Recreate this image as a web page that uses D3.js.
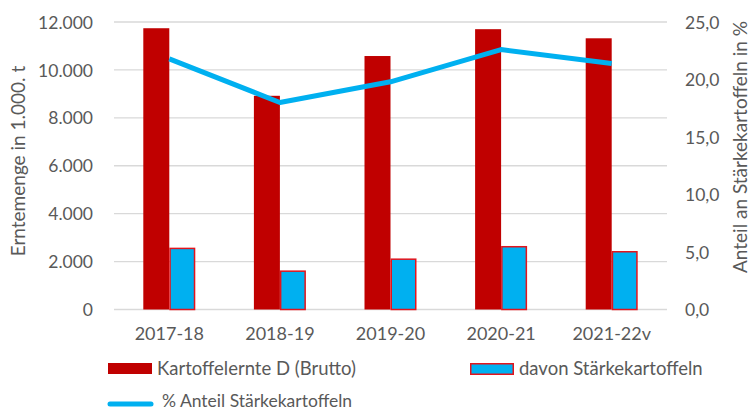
<!DOCTYPE html>
<html><head><meta charset="utf-8">
<script src="https://cdn.jsdelivr.net/npm/d3@7"></script>
<style>
html,body{margin:0;padding:0;background:#fff;}
svg text{font-family:Lato, "Open Sans", sans-serif;fill:#595959;}
</style></head>
<body><svg id="c" width="751" height="411"></svg>
<script>
const categories = ["2017-18","2018-19","2019-20","2020-21","2021-22v"];
const ernte = [11740, 8920, 10580, 11700, 11320];
const staerke = [2550, 1600, 2100, 2620, 2410];
const anteil = [21.8, 18.0, 19.8, 22.6, 21.4];
const leftTicks = [0,2000,4000,6000,8000,10000,12000];
const rightTicks = [0,5,10,15,20,25];
const seriesNames = ["Kartoffelernte D (Brutto)","davon Stärkekartoffeln","% Anteil Stärkekartoffeln"];

const RED="#c00000", BLUE="#00b0f0", EDGE="#e3141c";
const svg = d3.select("#c");
const L=114, R=667, T=22, B=309.5;
const x = d3.scaleBand().domain(categories).range([L,R]);
const yL = d3.scaleLinear().domain([0,12000]).range([B,T]);
const yR = d3.scaleLinear().domain([0,25]).range([B,T]);
const fmtL = v => d3.format(",")(v).replace(/,/g,".");
const fmtR = v => d3.format(".1f")(v).replace(".",",");

// gridlines
svg.append("g").selectAll("line").data(leftTicks).join("line")
  .attr("x1",L).attr("x2",R).attr("y1",d=>yL(d)).attr("y2",d=>yL(d))
  .attr("stroke","#d9d9d9").attr("stroke-width",1.3);

// axes
const axL = svg.append("g").attr("transform",`translate(${L},0)`)
  .call(d3.axisLeft(yL).tickValues(leftTicks).tickFormat(fmtL).tickSize(0).tickPadding(21));
axL.select(".domain").remove();
axL.selectAll("text").attr("font-size",17.5).attr("dy","0.35em").style("font-family","Lato");

const axR = svg.append("g").attr("transform",`translate(${R},0)`)
  .call(d3.axisRight(yR).tickValues(rightTicks).tickFormat(fmtR).tickSize(0).tickPadding(18));
axR.select(".domain").remove();
axR.selectAll("text").attr("font-size",17.5).attr("dy","0.35em").style("font-family","Lato");

const axX = svg.append("g").attr("transform",`translate(0,${B})`)
  .call(d3.axisBottom(x).tickSize(0).tickPadding(18));
axX.select(".domain").remove();
axX.selectAll("text").attr("font-size",18).style("font-family","Lato");

// bars
const bw = 26;
svg.append("g").selectAll("rect").data(categories).join("rect")
  .attr("x",d=>x(d)+x.bandwidth()/2-bw).attr("width",bw)
  .attr("y",(d,i)=>yL(ernte[i])).attr("height",(d,i)=>B-yL(ernte[i]))
  .attr("fill",RED);
svg.append("g").selectAll("rect").data(categories).join("rect")
  .attr("x",d=>x(d)+x.bandwidth()/2+0.75).attr("width",bw-1.5)
  .attr("y",(d,i)=>yL(staerke[i])).attr("height",(d,i)=>B-yL(staerke[i]))
  .attr("fill",BLUE).attr("stroke",EDGE).attr("stroke-width",1.5);

// line
const line = d3.line().x((d,i)=>x(categories[i])+x.bandwidth()/2).y(d=>yR(d));
svg.append("path").datum(anteil).attr("d",line).attr("fill","none")
  .attr("stroke",BLUE).attr("stroke-width",5).attr("stroke-linejoin","round");

// axis titles
svg.append("text").attr("transform","translate(25,161) rotate(-90)")
  .attr("text-anchor","middle").attr("font-size",19).text("Erntemenge in 1.000. t");
svg.append("text").attr("transform","translate(747,147) rotate(-90)")
  .attr("text-anchor","middle").attr("font-size",19).text("Anteil an Stärkekartoffeln in %");

// legend
const lg = svg.append("g");
lg.append("rect").attr("x",108).attr("y",363).attr("width",44).attr("height",11).attr("fill",RED);
lg.append("text").attr("x",157).attr("y",375).attr("font-size",18.5).text(seriesNames[0]);
lg.append("rect").attr("x",470.75).attr("y",363.75).attr("width",42.5).attr("height",10.5)
  .attr("fill",BLUE).attr("stroke",EDGE).attr("stroke-width",1.5);
lg.append("text").attr("x",519).attr("y",375).attr("font-size",18.5).text(seriesNames[1]);
lg.append("line").attr("x1",110).attr("x2",151).attr("y1",404).attr("y2",404)
  .attr("stroke",BLUE).attr("stroke-width",5).attr("stroke-linecap","round");
lg.append("text").attr("x",162).attr("y",407).attr("font-size",17.5).text(seriesNames[2]);
</script></body></html>
